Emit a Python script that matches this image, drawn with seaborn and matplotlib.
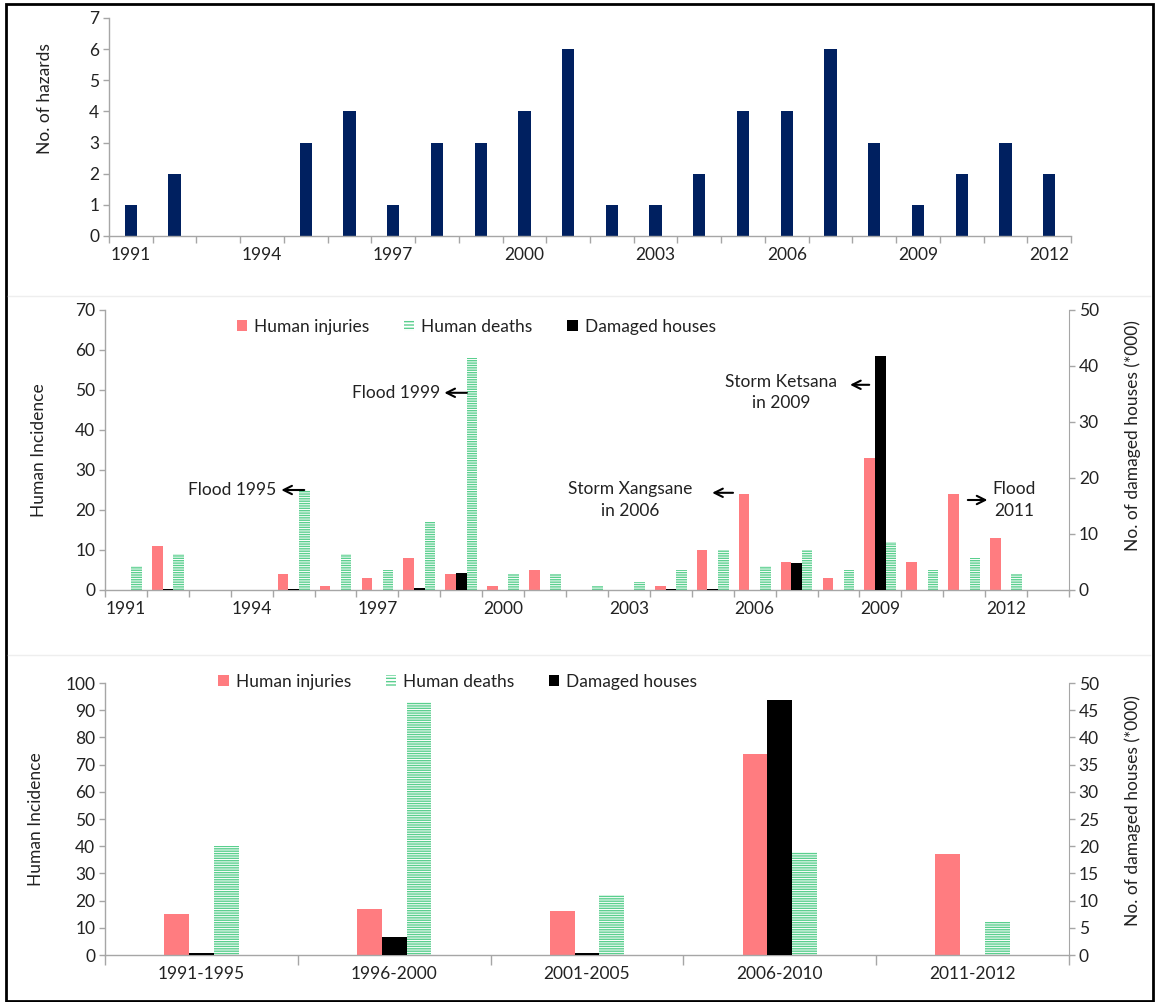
import matplotlib
matplotlib.use('Agg')
import matplotlib.pyplot as plt
from matplotlib.patches import Patch, Rectangle
from matplotlib.lines import Line2D
import pandas as pd
import seaborn as sns

# ---- data ----
years = [str(y) for y in range(1991, 2013)]
hazards = [1, 2, 0, 0, 3, 4, 1, 3, 3, 4, 6, 1, 1, 2, 4, 4, 6, 3, 1, 2, 3, 2]

# middle panel has one extra empty slot (2013) on its axis
mid_years = [str(y) for y in range(1991, 2014)]
injuries = [0, 11, 0, 0, 4, 1, 3, 8, 4, 1, 5, 0, 0, 1, 10, 24, 7, 3, 33, 7, 24, 13, 0]
deaths = [6, 9, 0, 0, 25, 9, 5, 17, 58, 4, 4, 1, 2, 5, 10, 6, 10, 5, 12, 5, 8, 4, 0]
houses = [0, 0.2, 0, 0, 0.2, 0, 0, 0.35, 3.0, 0, 0, 0, 0, 0.15, 0.15, 0, 4.9, 0, 41.8, 0, 0, 0, 0]

periods = ['1991-1995', '1996-2000', '2001-2005', '2006-2010', '2011-2012']
period_injuries = [15, 17, 16, 74, 37]
period_deaths = [40, 93, 22, 38, 12]
period_houses = [0.4, 3.4, 0.3, 46.8, 0]

SERIES = ['Human injuries', 'Damaged houses', 'Human deaths']
RED = '#FF7C80'
GREEN = '#5ACF8E'
NAVY = '#002060'
GREY = '#A6A6A6'
TXT = '#222222'

plt.rcParams['font.family'] = ['Lato', 'DejaVu Sans']
plt.rcParams['hatch.linewidth'] = 1.0
plt.rcParams['text.color'] = TXT
plt.rcParams['axes.labelcolor'] = TXT
plt.rcParams['xtick.color'] = GREY
plt.rcParams['ytick.color'] = GREY
plt.rcParams['xtick.labelcolor'] = TXT
plt.rcParams['ytick.labelcolor'] = TXT

FS = 12.5
W, H = 1160, 1002


def long_frame(cats, inj, dea, hou, secondary):
    rows = []
    for c, a, b, h in zip(cats, inj, dea, hou):
        if secondary:
            vals = {'Human injuries': 0, 'Damaged houses': h, 'Human deaths': 0}
        else:
            vals = {'Human injuries': a, 'Damaged houses': 0, 'Human deaths': b}
        for s in SERIES:
            rows.append({'cat': c, 'series': s, 'value': vals[s]})
    return pd.DataFrame(rows)


def style_axis(ax, n_cats, label_every):
    for side in ['top', 'right']:
        ax.spines[side].set_visible(False)
    for side in ['left', 'bottom']:
        ax.spines[side].set_color(GREY)
        ax.spines[side].set_linewidth(1.0)
    ax.set_xlim(-0.5, n_cats - 0.5)
    ax.set_xticks(range(0, n_cats, label_every))
    ax.tick_params(axis='x', which='major', length=0, pad=8, labelsize=FS)
    ax.set_xticks([i - 0.5 for i in range(n_cats + 1)], minor=True)
    ax.tick_params(axis='x', which='minor', length=5, width=1, color=GREY)
    ax.tick_params(axis='y', length=4, width=1, labelsize=FS, pad=3)
    ax.set_xlabel('')


def style_bars(ax, keep):
    for cont, name in zip(ax.containers, SERIES):
        for p in cont:
            p.set_linewidth(0)
            if name not in keep:
                p.set_visible(False)
            elif name == 'Human deaths':
                p.set_facecolor('white')
                p.set_edgecolor(GREEN)
                p.set_hatch('-------')
            elif name == 'Human injuries':
                p.set_facecolor(RED)
            else:
                p.set_facecolor('black')


def px_to_axes(x0, x1, y0, y1):
    return [x0 / W, 1 - y1 / H, (x1 - x0) / W, (y1 - y0) / H]


fig = plt.figure(figsize=(W / 100, H / 100), dpi=100)
palette = {'Human injuries': RED, 'Damaged houses': 'black', 'Human deaths': GREEN}

# ---------------- top panel: number of hazards ----------------
ax1 = fig.add_axes(px_to_axes(109, 1071, 18, 236))
sns.barplot(x=years, y=hazards, color=NAVY, saturation=1, width=0.28,
            errorbar=None, ax=ax1)
for p in ax1.patches:
    p.set_linewidth(0)
style_axis(ax1, len(years), 3)
ax1.set_ylim(0, 7)
ax1.set_yticks(range(0, 8))
ax1.set_ylabel('No. of hazards', fontsize=FS)
ax1.yaxis.set_label_coords(-0.058, 0.63)

legend_handles = [
    Patch(facecolor=RED, edgecolor='none', linewidth=0, label='Human injuries'),
    Patch(facecolor='white', edgecolor=GREEN, hatch='-----', linewidth=0, label='Human deaths'),
    Patch(facecolor='black', edgecolor='none', linewidth=0, label='Damaged houses'),
]

# ---------------- middle panel: yearly incidence ----------------
ax2 = fig.add_axes(px_to_axes(105, 1069, 310, 590))
df_p = long_frame(mid_years, injuries, deaths, houses, False)
df_s = long_frame(mid_years, injuries, deaths, houses, True)
sns.barplot(data=df_p, x='cat', y='value', hue='series', hue_order=SERIES,
            order=mid_years, palette=palette, saturation=1, width=0.76,
            errorbar=None, legend=False, ax=ax2)
style_bars(ax2, ['Human injuries', 'Human deaths'])
style_axis(ax2, len(mid_years), 3)
ax2.set_ylim(0, 70)
ax2.set_yticks(range(0, 71, 10))
ax2.set_ylabel('Human Incidence', fontsize=FS)
ax2.yaxis.set_label_coords(-0.06, 0.5)

ax2r = ax2.twinx()
sns.barplot(data=df_s, x='cat', y='value', hue='series', hue_order=SERIES,
            order=mid_years, palette=palette, saturation=1, width=0.76,
            errorbar=None, legend=False, ax=ax2r)
style_bars(ax2r, ['Damaged houses'])
ax2r.set_xlim(-0.5, len(mid_years) - 0.5)
ax2r.set_ylim(0, 50)
ax2r.set_yticks(range(0, 51, 10))
for side in ['top', 'left', 'bottom']:
    ax2r.spines[side].set_visible(False)
ax2r.spines['right'].set_color(GREY)
ax2r.tick_params(axis='y', length=4, width=1, labelsize=FS, pad=3)
ax2r.set_ylabel('No. of damaged houses (*000)', fontsize=FS)
ax2r.yaxis.set_label_coords(1.057, 0.55)
ax2r.set_xlabel('')

ax2.legend(handles=legend_handles, loc='center', bbox_to_anchor=(0.385, 0.94),
           ncol=3, frameon=False, fontsize=FS, handlelength=0.6, handleheight=0.6,
           handletextpad=0.4, columnspacing=2.0)

# annotations (data coordinates of the yearly axis)
arrow = dict(arrowstyle='->', color='black', lw=1.5, mutation_scale=15)
notes = [
    # text, text x, text y, ha, arrow tail, arrow head
    ('Flood 1995', 3.58, 25, 'right', (4.32, 25), (3.64, 25)),
    ('Flood 1999', 7.49, 49.3, 'right', (8.20, 49.3), (7.53, 49.3)),
    ('Storm Xangsane\nin 2006', 12.03, 22.5, 'center', (14.55, 24.3), (13.92, 24.3)),
    ('Storm Ketsana\nin 2009', 15.63, 49.3, 'center', (17.80, 51.3), (17.21, 51.3)),
    ('Flood\n2011', 21.19, 22.5, 'center', (20.02, 22.5), (20.62, 22.5)),
]
for label, tx, ty, ha, tail, head in notes:
    ax2.text(tx, ty, label, ha=ha, va='center', fontsize=FS, linespacing=1.4, color=TXT)
    ax2.annotate('', xy=head, xytext=tail, arrowprops=arrow)

# ---------------- bottom panel: five-year totals ----------------
ax3 = fig.add_axes(px_to_axes(105, 1069, 683, 955))
df_bp = long_frame(periods, period_injuries, period_deaths, period_houses, False)
df_bs = long_frame(periods, period_injuries, period_deaths, period_houses, True)
sns.barplot(data=df_bp, x='cat', y='value', hue='series', hue_order=SERIES,
            order=periods, palette=palette, saturation=1, width=0.385,
            errorbar=None, legend=False, ax=ax3)
style_bars(ax3, ['Human injuries', 'Human deaths'])
style_axis(ax3, len(periods), 1)
ax3.tick_params(axis='x', which='minor', length=7)
ax3.set_ylim(0, 100)
ax3.set_yticks(range(0, 101, 10))
ax3.set_ylabel('Human Incidence', fontsize=FS)
ax3.yaxis.set_label_coords(-0.063, 0.5)

ax3r = ax3.twinx()
sns.barplot(data=df_bs, x='cat', y='value', hue='series', hue_order=SERIES,
            order=periods, palette=palette, saturation=1, width=0.385,
            errorbar=None, legend=False, ax=ax3r)
style_bars(ax3r, ['Damaged houses'])
ax3r.set_xlim(-0.5, len(periods) - 0.5)
ax3r.set_ylim(0, 50)
ax3r.set_yticks(range(0, 51, 5))
for side in ['top', 'left', 'bottom']:
    ax3r.spines[side].set_visible(False)
ax3r.spines['right'].set_color(GREY)
ax3r.tick_params(axis='y', length=4, width=1, labelsize=FS, pad=3)
ax3r.set_ylabel('No. of damaged houses (*000)', fontsize=FS)
ax3r.yaxis.set_label_coords(1.058, 0.53)
ax3r.set_xlabel('')

ax3.legend(handles=legend_handles, loc='center', bbox_to_anchor=(0.366, 1.004),
           ncol=3, frameon=False, fontsize=FS, handlelength=0.6, handleheight=0.6,
           handletextpad=0.4, columnspacing=2.0)

# faint panel separators and outer frame
for yy in [296, 655]:
    fig.add_artist(Line2D([8 / W, 1150 / W], [1 - yy / H, 1 - yy / H],
                          transform=fig.transFigure, color='#EEEEEE', lw=1))
fig.add_artist(Rectangle((6 / W, 1 / H), 1147 / W, 997 / H, transform=fig.transFigure,
                         fill=False, edgecolor='black', lw=2))

fig.savefig('out.png', dpi=100)
